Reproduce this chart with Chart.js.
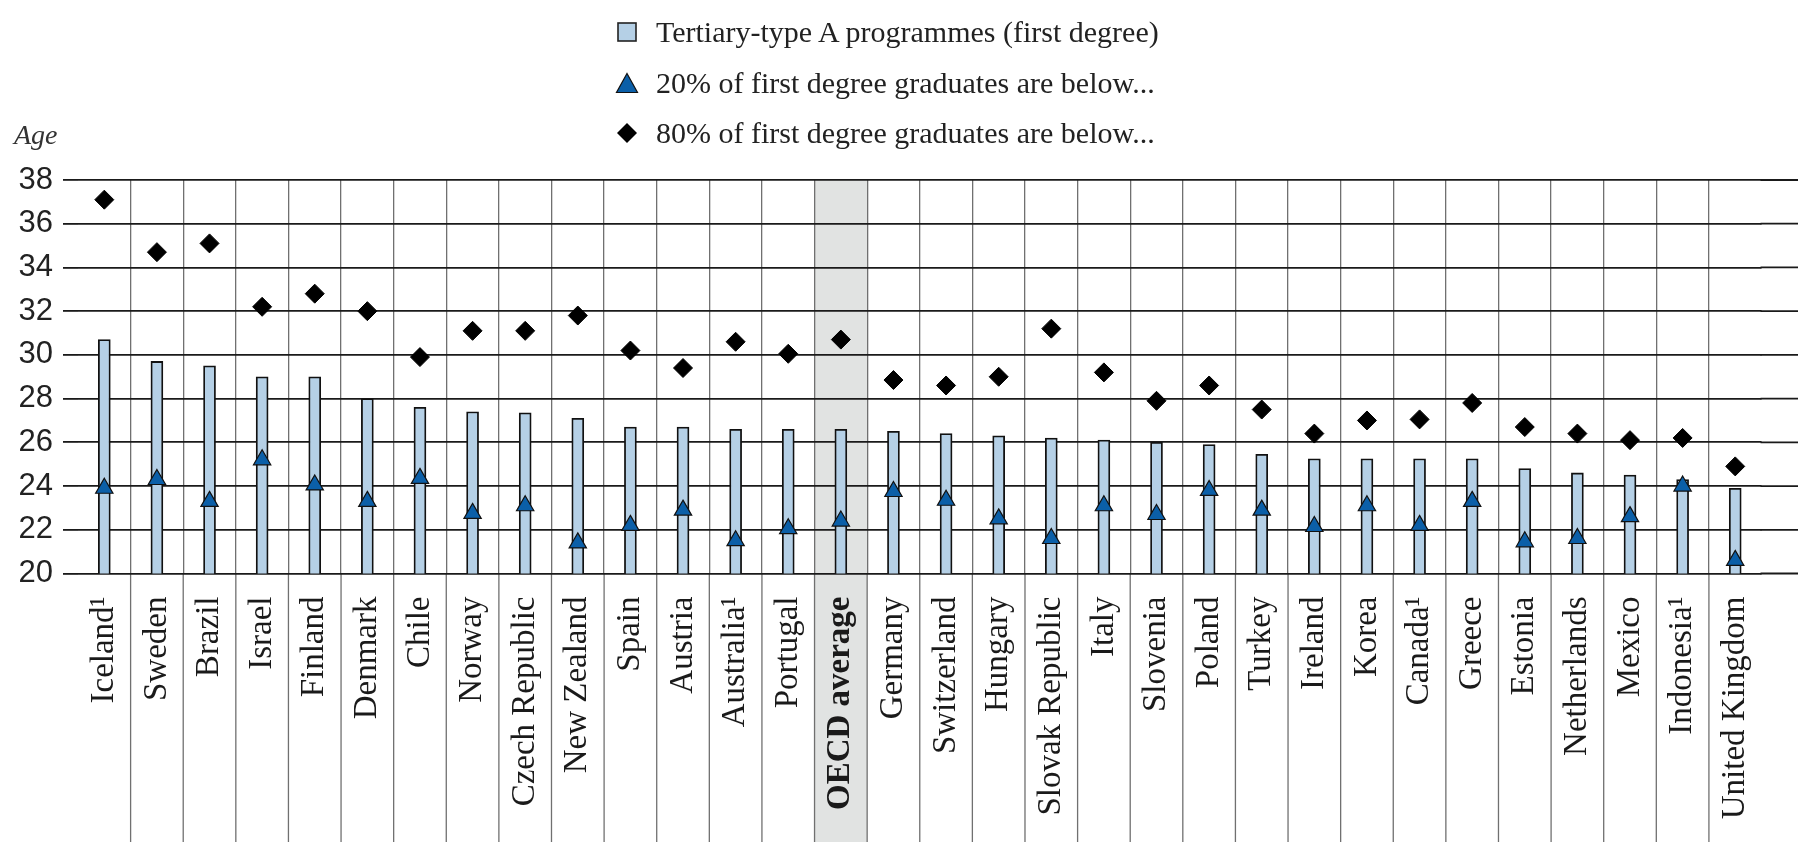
<!DOCTYPE html>
<html>
<head>
<meta charset="utf-8">
<script src="https://cdn.jsdelivr.net/npm/chart.js@4/dist/chart.umd.min.js"></script>
<style>
  html, body { margin: 0; padding: 0; background: #ffffff; }
  #wrap { position: relative; width: 1798px; height: 842px; }
  #legend { position: absolute; left: 612px; top: 7px; font-family: 'Liberation Serif', serif; font-size: 30px; color: #222; }
  .row { display: flex; align-items: center; height: 50.5px; white-space: nowrap; }
  .mk { width: 30px; height: 24px; margin-right: 14px; display: flex; align-items: center; justify-content: center; }
  #age { position: absolute; left: 14px; top: 121px; font-family: 'Liberation Serif', serif; font-style: italic; font-size: 28px; line-height: 28px; color: #333; }
</style>
</head>
<body>
<div id="wrap">
  <canvas id="c" width="1798" height="842"></canvas>
  <div id="legend"></div>
  <div id="age">Age</div>
</div>
<script>
// ---- data ----
const categories = ["Iceland¹","Sweden","Brazil","Israel","Finland","Denmark","Chile","Norway","Czech Republic","New Zealand","Spain","Austria","Australia¹","Portugal","OECD average","Germany","Switzerland","Hungary","Slovak Republic","Italy","Slovenia","Poland","Turkey","Ireland","Korea","Canada¹","Greece","Estonia","Netherlands","Mexico","Indonesia¹","United Kingdom"];
const typicalAge = [30.7,29.7,29.5,29.0,29.0,28.0,27.6,27.4,27.35,27.1,26.7,26.7,26.6,26.6,26.6,26.5,26.4,26.3,26.2,26.1,26.0,25.9,25.45,25.25,25.25,25.25,25.25,24.8,24.6,24.5,24.3,23.9];
const below20 = [23.9,24.3,23.3,25.2,24.05,23.3,24.35,22.75,23.1,21.4,22.2,22.9,21.5,22.05,22.4,23.75,23.35,22.5,21.6,23.1,22.7,23.8,22.9,22.15,23.1,22.2,23.3,21.45,21.6,22.6,24.0,20.6];
const below80 = [37.1,34.7,35.1,32.2,32.8,32.0,29.9,31.1,31.1,31.8,30.2,29.4,30.6,30.05,30.7,28.85,28.6,29.0,31.2,29.2,27.9,28.6,27.5,26.4,27.0,27.05,27.8,26.7,26.4,26.1,26.2,24.9];
const seriesNames = ["Tertiary-type A programmes (first degree)","20% of first degree graduates are below...","80% of first degree graduates are below..."];
const highlightCategory = "OECD average";
const yMin = 20, yMax = 38, yStep = 2;

// ---- styles ----
const barFill = '#b5d0e6';
const triFill = '#0b5fa8';
const gridDark = '#1a1a1a';
const gridGray = '#707070';

const decor = {
  id: 'decor',
  beforeDraw(chart) {
    const { ctx, chartArea, scales: { x, y } } = chart;
    const H = chart.height, W = chart.width;
    const half = (x.getPixelForValue(1) - x.getPixelForValue(0)) / 2;
    const idx = categories.indexOf(highlightCategory);
    const cx = x.getPixelForValue(idx);
    ctx.save();
    ctx.fillStyle = '#e1e3e2';
    ctx.fillRect(cx - half, chartArea.top, half * 2, H - chartArea.top);
    ctx.strokeStyle = gridGray;
    ctx.lineWidth = 1.3;
    for (let i = 1; i < categories.length; i++) {
      const bx = (x.getPixelForValue(i - 1) + x.getPixelForValue(i)) / 2;
      ctx.beginPath();
      ctx.moveTo(bx, chartArea.bottom);
      ctx.lineTo(bx, H);
      ctx.stroke();
    }
    ctx.strokeStyle = gridDark;
    ctx.lineWidth = 1.8;
    y.ticks.forEach(t => {
      const py = y.getPixelForValue(t.value);
      ctx.beginPath();
      ctx.moveTo(chartArea.right - 1, py);
      ctx.lineTo(W, py);
      ctx.stroke();
    });
    ctx.restore();
  }
};

const chart = new Chart(document.getElementById('c'), {
  data: {
    labels: categories,
    datasets: [
      {
        type: 'bar', label: seriesNames[0], data: typicalAge,
        backgroundColor: barFill, borderColor: '#111', borderWidth: 1.8,
        barThickness: 12, order: 3
      },
      {
        type: 'line', label: seriesNames[1], data: below20, showLine: false,
        pointStyle: 'triangle', pointRadius: 10, pointHoverRadius: 10,
        backgroundColor: triFill, borderColor: '#111', borderWidth: 1.2, order: 2
      },
      {
        type: 'line', label: seriesNames[2], data: below80, showLine: false,
        pointStyle: 'rectRot', pointRadius: 9.5, pointHoverRadius: 9.5,
        backgroundColor: '#000', borderColor: '#000', borderWidth: 1, order: 1
      }
    ]
  },
  options: {
    responsive: false,
    animation: false,
    layout: { padding: { top: 180, right: 6.5, bottom: 0, left: 0 } },
    plugins: { legend: { display: false }, tooltip: { enabled: false } },
    scales: {
      x: {
        offset: true,
        border: { display: false },
        grid: {
          offset: true, drawTicks: false, lineWidth: 1.3,
          color: (c) => (c.type !== 'tick' || c.index === 0) ? 'rgba(0,0,0,0)' : gridGray
        },
        ticks: {
          autoSkip: false, minRotation: 90, maxRotation: 90, padding: 23,
          color: '#1a1a1a',
          font: (c) => ({ family: "'Liberation Serif', serif", size: 33,
            weight: (c.tick && c.tick.label === highlightCategory) ? 'bold' : 'normal' })
        },
        afterFit: (s) => { s.height = 842 - 573.5; }
      },
      y: {
        min: yMin, max: yMax,
        border: { display: false },
        grid: { color: gridDark, lineWidth: 1.8, drawTicks: true, tickLength: 15 },
        ticks: {
          stepSize: yStep, padding: 10, color: '#222',
          font: { family: "'Liberation Sans', sans-serif", size: 31 }
        },
        afterFit: (s) => { s.width = 78; }
      }
    }
  },
  plugins: [decor]
});

// ---- HTML legend built from datasets ----
const legend = document.getElementById('legend');
const markers = [
  '<svg width="22" height="22" viewBox="0 0 22 22"><rect x="2" y="2" width="18" height="18" fill="' + barFill + '" stroke="#222" stroke-width="1.6"/></svg>',
  '<svg width="24" height="22" viewBox="0 0 24 22"><polygon points="12,1.5 22.5,20.5 1.5,20.5" fill="' + triFill + '" stroke="#111" stroke-width="1.2"/></svg>',
  '<svg width="22" height="22" viewBox="0 0 22 22"><polygon points="11,1 21,11 11,21 1,11" fill="#000"/></svg>'
];
chart.data.datasets.forEach((ds, i) => {
  const row = document.createElement('div');
  row.className = 'row';
  const mk = document.createElement('span');
  mk.className = 'mk';
  mk.innerHTML = markers[i];
  const tx = document.createElement('span');
  tx.textContent = ds.label;
  row.appendChild(mk);
  row.appendChild(tx);
  legend.appendChild(row);
});
</script>
</body>
</html>
